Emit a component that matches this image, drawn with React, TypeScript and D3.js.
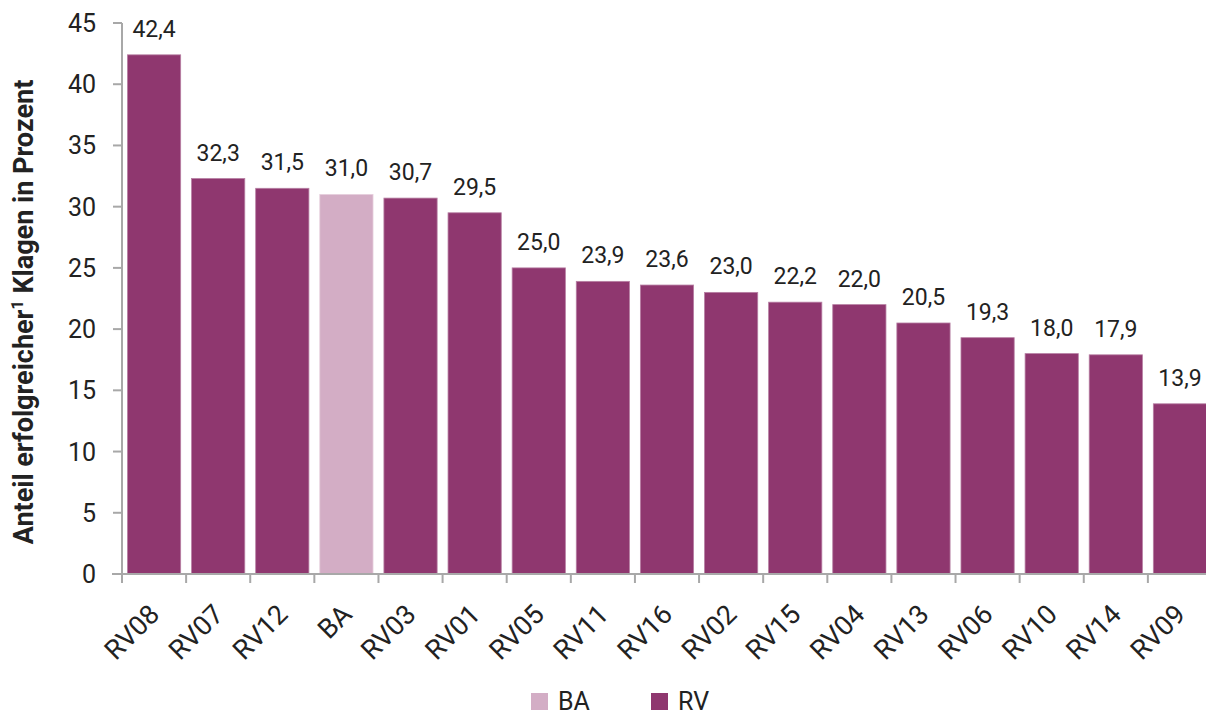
import React from "react";
import * as d3 from "d3";

const categories = ["RV08","RV07","RV12","BA","RV03","RV01","RV05","RV11","RV16","RV02","RV15","RV04","RV13","RV06","RV10","RV14","RV09"];
const values = [42.4,32.3,31.5,31.0,30.7,29.5,25.0,23.9,23.6,23.0,22.2,22.0,20.5,19.3,18.0,17.9,13.9];
const groups = ["RV","RV","RV","BA","RV","RV","RV","RV","RV","RV","RV","RV","RV","RV","RV","RV","RV"];
const yTicks = [0,5,10,15,20,25,30,35,40,45];
const legendItems = ["BA","RV"];

const W = 1206, H = 717;
const colors: Record<string,string> = { BA: "#D3ADC5", RV: "#8F376F" };
const font = "Roboto, 'Noto Sans', sans-serif";

export default function App() {
  const x = d3.scaleBand<string>().domain(categories).range([122, 1212]).paddingInner(0.17).paddingOuter(0.085);
  const y = d3.scaleLinear().domain([0, 45]).range([574, 23]);
  const step = x.step();
  const axisColor = "#A8A8A8";
  return (
    <svg width={W} height={H} style={{ position: "absolute", left: 0, top: 0, background: "#fff" }} fontFamily={font}>
      {categories.map((c, i) => (
        <rect key={c} x={x(c)} y={y(values[i])} width={x.bandwidth()} height={y(0) - y(values[i])}
          fill={colors[groups[i]]} stroke={groups[i] === "BA" ? "#E6CFDD" : "#B77FA3"} strokeWidth={0.8} />
      ))}
      {categories.map((c, i) => (
        <text key={"v" + c} x={(x(c) as number) + x.bandwidth() / 2} y={y(values[i]) - 18} textAnchor="middle"
          fontSize={23} fill="#222">{values[i].toFixed(1).replace(".", ",")}</text>
      ))}
      <line x1={122} x2={122} y1={y(45)} y2={y(0)} stroke={axisColor} strokeWidth={2} />
      {yTicks.map(t => (
        <g key={t}>
          <line x1={113} x2={122} y1={y(t)} y2={y(t)} stroke={axisColor} strokeWidth={2} />
          <text x={96} y={y(t)} dy="0.36em" textAnchor="end" fontSize={25} fill="#222">{t}</text>
        </g>
      ))}
      <line x1={112} x2={W} y1={y(0)} y2={y(0)} stroke={axisColor} strokeWidth={2} />
      {categories.map((c, i) => (
        <line key={"t" + c} x1={122 + i * step} x2={122 + i * step} y1={y(0)} y2={y(0) + 9} stroke={axisColor} strokeWidth={2} />
      ))}
      {categories.map(c => (
        <text key={"l" + c} transform={`translate(${(x(c) as number) + x.bandwidth() / 2 + 7},${y(0) + 42}) rotate(-45)`}
          textAnchor="end" fontSize={27} fill="#222">{c}</text>
      ))}
      <text transform={`translate(33,312) rotate(-90)`} textAnchor="middle" fontSize={27} fontWeight="bold" fill="#222">
        Anteil erfolgreicher<tspan fontSize={16} dy="-10">1</tspan><tspan dy="10"> Klagen in Prozent</tspan>
      </text>
      {legendItems.map((g, i) => (
        <g key={g} transform={`translate(${531 + i * 120},693)`}>
          <rect x={0} y={0} width={17} height={17} fill={colors[g]} />
          <text x={27} y={17} fontSize={25} fill="#222">{g}</text>
        </g>
      ))}
    </svg>
  );
}
